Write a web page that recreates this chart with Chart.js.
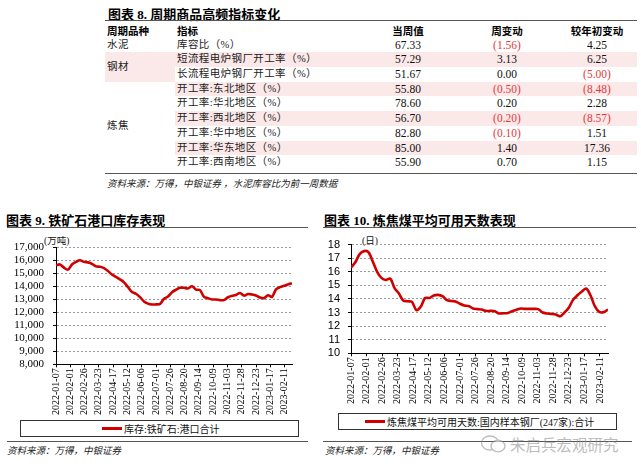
<!DOCTYPE html>
<html>
<head>
<meta charset="utf-8">
<script src="https://cdn.jsdelivr.net/npm/chart.js@4.4.1/dist/chart.umd.min.js"></script>
<style>
  html,body{margin:0;padding:0;background:#fff;}
  body{width:641px;height:471px;position:relative;overflow:hidden;font-family:"Liberation Serif","Noto Sans CJK SC",serif;color:#111;}
  .abs{position:absolute;white-space:nowrap;}
  .title{font-family:"Liberation Serif","Noto Sans CJK SC";font-weight:bold;font-size:13px;color:#000;}
  .hline{position:absolute;height:0;border-top:1.3px solid #555;}
  .src{font-family:"Noto Sans CJK SC";font-style:italic;font-size:9.5px;color:#222;}
  .cell{position:absolute;white-space:nowrap;height:14.7px;line-height:14.7px;}
  .cjk{font-family:"Liberation Serif","Noto Sans CJK SC";font-size:10.5px;color:#222;letter-spacing:0.4px;}
  .num{font-family:"Liberation Serif";font-size:11.5px;color:#111;text-align:center;width:70px;}
  .hdr{font-family:"Noto Sans CJK SC";font-weight:bold;font-size:10.5px;color:#000;}
  .pink{position:absolute;background:#fbe8e8;}
  .legend{position:absolute;border:1px solid #333;box-sizing:border-box;}
  .legline{position:absolute;height:3px;background:#d00000;}
  .legtxt{position:absolute;font-family:"Liberation Serif","Noto Sans CJK SC";font-size:10px;color:#111;white-space:nowrap;}
</style>
</head>
<body>
<div id="root"></div>
<canvas id="c1" width="305" height="190" style="position:absolute;left:0;top:232px;"></canvas>
<canvas id="c2" width="300" height="181" style="position:absolute;left:320px;top:230px;"></canvas>
<script>
// ---------------- DATA ----------------
const tableHeaders = ['周期品种','指标','当周值','周变动','较年初变动'];
const tableCategories = ['水泥','钢材','炼焦'];
const tableIndicators = ['库容比（%）','短流程电炉钢厂开工率（%）','长流程电炉钢厂开工率（%）','开工率:东北地区（%）','开工率:华北地区（%）','开工率:西北地区（%）','开工率:华中地区（%）','开工率:华东地区（%）','开工率:西南地区（%）'];
const currentValues = [67.33, 57.29, 51.67, 55.80, 78.60, 56.70, 82.80, 85.00, 55.90];
const weeklyChange = [-1.56, 3.13, 0.00, -0.50, 0.20, -0.20, -0.10, 1.40, 0.70];
const ytdChange = [4.25, 6.25, -5.00, -8.48, 2.28, -8.57, 1.51, 17.36, 1.15];

const tickLabels = ['2022-01-07','2022-02-01','2022-02-26','2022-03-23','2022-04-17','2022-05-12','2022-06-06','2022-07-01','2022-07-26','2022-08-20','2022-09-14','2022-10-09','2022-11-03','2022-11-28','2022-12-23','2023-01-17','2023-02-11'];
const startDate = '2022-01-07';
const endDate = '2023-02-24';

// 库存:铁矿石:港口合计 (万吨), weekly
const ironOre = [15620,15700,15450,15300,15700,15900,16030,15900,15860,15750,
                 15550,15520,15420,15200,14920,14740,14550,14320,13950,13580,
                 13440,13180,12850,12680,12610,12620,12650,13050,13230,13560,
                 13750,13900,13900,13850,14020,13760,13720,13200,13100,13000,
                 13000,12950,12950,13170,13280,13350,13500,13300,13420,13380,
                 13300,13150,13100,13320,13200,13780,13950,14050,14150,14260];
// 炼焦煤平均可用天数:国内样本钢厂(247家):合计 (日), weekly
const cokingDays = [16.30,16.70,17.30,17.52,17.45,16.75,16.00,15.55,15.40,15.50,
                    14.80,14.40,13.88,13.83,13.78,13.18,13.42,14.07,14.07,14.25,
                    14.30,14.20,13.92,13.85,13.82,13.65,13.52,13.48,13.30,13.25,
                    13.22,13.12,13.12,13.10,12.93,12.95,12.97,13.10,13.20,13.30,
                    13.27,13.27,13.27,13.25,13.00,12.93,12.90,12.85,12.72,13.00,
                    13.35,13.95,14.27,14.55,14.77,14.25,13.45,13.05,13.03,13.22];

// ---------------- TABLE (HTML) ----------------
const root = document.getElementById('root');
function el(cls, style, text){ const d=document.createElement('div'); d.className=cls; Object.assign(d.style, style); if(text!==undefined) d.textContent=text; root.appendChild(d); return d; }

el('abs title', {left:'108px', top:'4px'}, '图表 8. 周期商品高频指标变化');
el('hline', {left:'105px', top:'20px', width:'532px'});
el('hline', {left:'105px', top:'172.5px', width:'532px'});

const rowY = k => 45 + 14.7*k;        // row center
const RH = 14.7;
// pink bands
function band(x1,x2,k1,k2){ el('pink',{left:x1+'px',width:(x2-x1)+'px',top:(rowY(k1)-RH/2)+'px',height:((k2-k1+1)*RH)+'px'}); }
band(105,637,1,1);
band(105,175,2,2);
band(175,637,3,3);
band(175,637,5,5);
band(175,637,7,7);

// header
const hdrY = 31.7;
el('cell hdr',{left:'107px',top:(hdrY-RH/2)+'px'},tableHeaders[0]);
el('cell hdr',{left:'177px',top:(hdrY-RH/2)+'px'},tableHeaders[1]);
const colCenters = [408, 507, 597];
[2,3,4].forEach((h,i)=>{ el('cell hdr',{left:(colCenters[i]-40)+'px',width:'80px',textAlign:'center',top:(hdrY-RH/2)+'px'},tableHeaders[h]); });

// category column (merged cells)
el('cell cjk',{left:'107px',top:(rowY(0)-RH/2)+'px'},tableCategories[0]);
el('cell cjk',{left:'107px',top:((rowY(1)+rowY(2))/2-RH/2)+'px'},tableCategories[1]);
el('cell cjk',{left:'107px',top:((rowY(3)+rowY(8))/2-RH/2)+'px'},tableCategories[2]);

function fmt(v){ return v<0 ? '('+Math.abs(v).toFixed(2)+')' : v.toFixed(2); }
tableIndicators.forEach((name,k)=>{
  const top = (rowY(k)-RH/2)+'px';
  el('cell cjk',{left:'177px',top},name);
  [currentValues[k], weeklyChange[k], ytdChange[k]].forEach((v,i)=>{
    el('cell num',{left:(colCenters[i]-35)+'px',top,color: v<0?'#e8393a':'#111'}, fmt(v));
  });
});
el('abs src',{left:'107px',top:'176px'},'资料来源：万得，中银证券 ，水泥库容比为前一周数据');

// ---------------- CHART FRAMES ----------------
el('abs title',{left:'6px',top:'210px'},'图表 9. 铁矿石港口库存表现');
el('hline',{left:'7px',top:'227px',width:'301px'});
el('hline',{left:'7px',top:'441px',width:'301px'});
el('abs src',{left:'7px',top:'443px'},'资料来源：万得，中银证券');
el('abs',{left:'44px',top:'233px',fontFamily:'"Liberation Serif","Noto Sans CJK SC"',fontSize:'9.5px'},'(万吨)');

el('abs title',{left:'324px',top:'210px'},'图表 10. 炼焦煤平均可用天数表现');
el('hline',{left:'323px',top:'227px',width:'313px'});
el('hline',{left:'323px',top:'441px',width:'309px'});
el('abs src',{left:'325px',top:'443px'},'资料来源：万得，中银证券');
el('abs',{left:'362px',top:'233px',fontFamily:'"Liberation Serif","Noto Sans CJK SC"',fontSize:'9.5px'},'(日)');

// legends
el('legend',{left:'20px',top:'420px',width:'279px',height:'17px'});
el('legline',{left:'102px',top:'427px',width:'20px'});
el('legtxt',{left:'124px',top:'421px'},'库存:铁矿石:港口合计');
el('legend',{left:'338px',top:'413px',width:'279px',height:'17px'});
el('legline',{left:'365px',top:'420px',width:'20px'});
el('legtxt',{left:'387px',top:'414px'},'炼焦煤平均可用天数:国内样本钢厂(247家):合计');

// watermark
const wm = document.createElement('div');
wm.className='abs';
Object.assign(wm.style,{left:'480px',top:'433px',opacity:'0.55'});
wm.innerHTML = '<svg width="28" height="20" viewBox="0 0 28 20" style="vertical-align:middle"><ellipse cx="10" cy="9" rx="8.5" ry="7" fill="none" stroke="#888" stroke-width="1.3"/><ellipse cx="18" cy="12" rx="7" ry="5.8" fill="#fff" stroke="#888" stroke-width="1.3"/></svg><span style="font-family:Noto Sans CJK SC;font-size:15.5px;color:#888;vertical-align:middle;margin-left:2px">朱启兵宏观研究</span>';
root.appendChild(wm);

// ---------------- CHARTS ----------------
const DAY = 86400000;
const t0 = Date.parse(startDate);
const dayOffset = s => (Date.parse(s) - t0) / DAY;
const nWeeks = ironOre.length;
const weekDates = Array.from({length:nWeeks}, (_,i)=> new Date(t0 + i*7*DAY).toISOString().slice(0,10));
const xMax = dayOffset(endDate);

function makeChart(id, values, yMin, yMax, step, yFmt, yFont, pad, yWidth, xHeight, yPad){
  return new Chart(document.getElementById(id), {
    type:'line',
    data:{ datasets:[{
      data: weekDates.map((d,i)=>({x: dayOffset(d), y: values[i]})),
      borderColor:'#d00000', borderWidth:2.6, pointRadius:0, tension:0.3, fill:false
    }]},
    options:{
      responsive:false, animation:false, devicePixelRatio:1,
      layout:{padding:pad},
      plugins:{legend:{display:false}, tooltip:{enabled:false}},
      scales:{
        x:{ type:'linear', min:0, max:xMax,
            afterBuildTicks: s => { s.ticks = tickLabels.map(l=>({value: dayOffset(l)})); },
            ticks:{ autoSkip:false, minRotation:90, maxRotation:90, padding:1,
                    callback:(v,i)=>tickLabels[i],
                    font:{family:'Liberation Serif', size:10}, color:'#000' },
            grid:{ drawOnChartArea:false, drawTicks:true, tickLength:3, color:'#000' },
            border:{ display:true, color:'#000', width:1 },
            afterFit: s => { s.height = xHeight; } },
        y:{ min:yMin, max:yMax,
            ticks:{ stepSize:step, autoSkip:false, callback: yFmt, padding:yPad,
                    font:{family:yFont, size:11}, color:'#000' },
            grid:{ color:'#9a9a9a', lineWidth:1, tickLength:3, tickColor:'#000', tickBorderDash:[] },
            border:{ display:true, color:'#000', width:1, dash:[2,2] },
            afterFit: s => { s.width = yWidth; } }
      }
    }
  });
}

makeChart('c1', ironOre, 8000, 17000, 1000, v => v.toLocaleString('en-US'), 'Liberation Serif',
          {top:14.5, right:13, bottom:5, left:0}, 56, 52.7, 9);
makeChart('c2', cokingDays, 10, 18, 1, v => String(v), 'Liberation Sans',
          {top:13.3, right:12, bottom:5.7, left:0}, 31, 52, 8);
</script>
</body>
</html>
